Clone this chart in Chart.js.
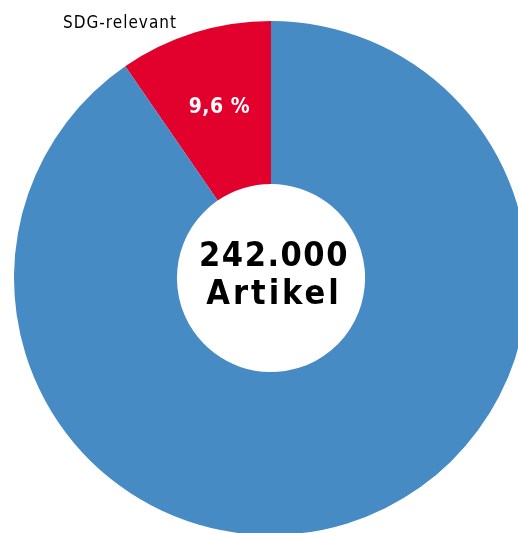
<!DOCTYPE html>
<html>
<head>
  <title>SDG-relevante Artikel</title>
  <script src="https://cdn.jsdelivr.net/npm/chart.js"></script>
  <style>
    html, body { margin: 0; padding: 0; background: #fff; }
    body { width: 518px; height: 533px; overflow: hidden; position: relative; }
    #wrap { position: absolute; left: -9px; top: -2px; width: 560px; height: 560px; }
  </style>
</head>
<body>
  <div id="wrap"><canvas id="donut" width="560" height="560"></canvas></div>

  <script>
    const labels = ['SDG-relevant', 'Sonstige'];
    const shares = [9.6, 90.4];
    const sliceColors = ['#e2002d', '#468bc4'];
    const totalLabel = ['242.000', 'Artikel'];

    const FONT = '"DejaVu Sans Condensed", "DejaVu Sans", sans-serif';

    // texts on top of the ring: the share label, the callout and the total in the hole
    const textPlugin = {
      id: 'texts',
      afterDatasetsDraw(chart) {
        const ctx = chart.ctx;
        const arc = chart.getDatasetMeta(0).data[0];
        const mid = (arc.startAngle + arc.endAngle) / 2;
        const r = (arc.innerRadius + arc.outerRadius) / 2 + 5;
        ctx.save();
        ctx.textAlign = 'center';
        ctx.textBaseline = 'alphabetic';

        ctx.fillStyle = '#fff';
        ctx.font = 'bold 21px ' + FONT;
        ctx.letterSpacing = '0.5px';
        ctx.fillText(shares[0].toString().replace('.', ',') + ' %',
          arc.x + Math.cos(mid) * r + 2, arc.y + Math.sin(mid) * r + 7);

        ctx.fillStyle = '#000';
        ctx.font = 'bold 34px ' + FONT;
        ctx.letterSpacing = '1.5px';
        ctx.fillText(totalLabel[0], arc.x + 3, arc.y - 12);
        ctx.letterSpacing = '3px';
        ctx.fillText(totalLabel[1], arc.x + 3, arc.y + 26);

        ctx.textAlign = 'left';
        ctx.font = '17px ' + FONT;
        ctx.letterSpacing = '1px';
        ctx.fillText(labels[0], 72, 30);
        ctx.restore();
      }
    };

    new Chart(document.getElementById('donut').getContext('2d'), {
      type: 'doughnut',
      data: {
        labels: labels,
        datasets: [{
          data: shares,
          backgroundColor: sliceColors,
          borderWidth: 0
        }]
      },
      options: {
        responsive: false,
        animation: false,
        radius: 257,
        cutout: '36.6%',
        rotation: -34.56,
        layout: { padding: 0 },
        plugins: {
          legend: { display: false },
          tooltip: { enabled: false }
        }
      },
      plugins: [textPlugin]
    });
  </script>
</body>
</html>
